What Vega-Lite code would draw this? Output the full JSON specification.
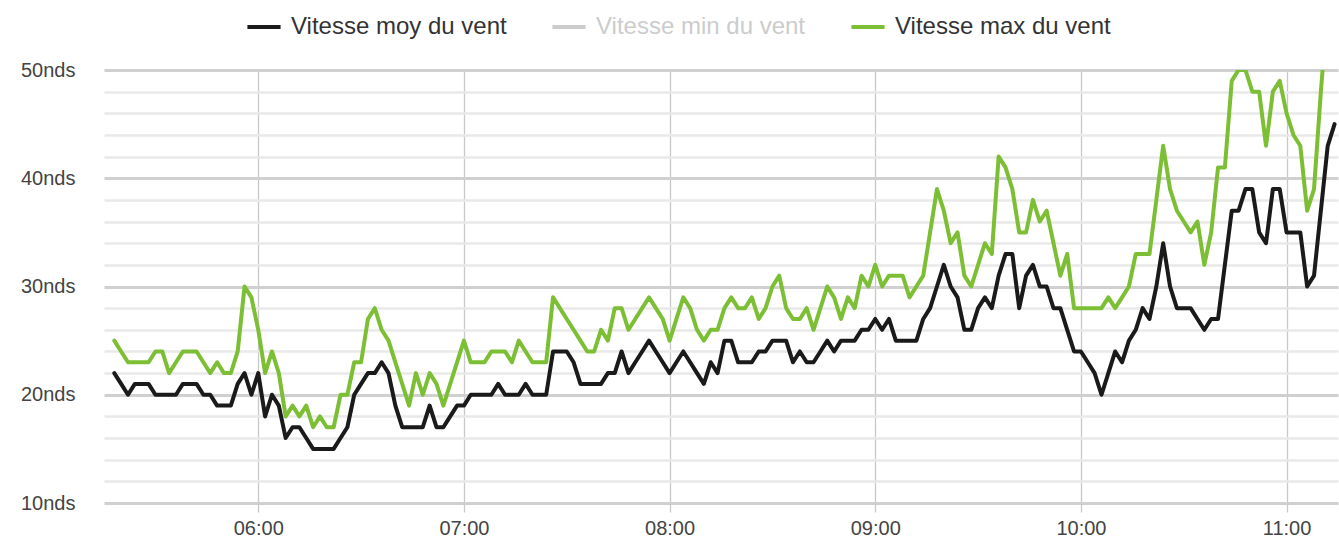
{
  "$schema": "https://vega.github.io/schema/vega-lite/v6.json",
  "width": 1234,
  "height": 433,
  "autosize": {"type": "none"},
  "padding": {"left": 104, "top": 70, "right": 1, "bottom": 43},
  "background": "white",
  "config": {"view": {"stroke": null}, "font": "Liberation Sans"},
  "data": {
    "format": {"parse": {"t": "date:'%H:%M'"}},
    "values": [
      {"t":"05:18","moy":22,"max":25},{"t":"05:20","moy":21,"max":24},{"t":"05:22","moy":20,"max":23},{"t":"05:24","moy":21,"max":23},
      {"t":"05:26","moy":21,"max":23},{"t":"05:28","moy":21,"max":23},{"t":"05:30","moy":20,"max":24},{"t":"05:32","moy":20,"max":24},
      {"t":"05:34","moy":20,"max":22},{"t":"05:36","moy":20,"max":23},{"t":"05:38","moy":21,"max":24},{"t":"05:40","moy":21,"max":24},
      {"t":"05:42","moy":21,"max":24},{"t":"05:44","moy":20,"max":23},{"t":"05:46","moy":20,"max":22},{"t":"05:48","moy":19,"max":23},
      {"t":"05:50","moy":19,"max":22},{"t":"05:52","moy":19,"max":22},{"t":"05:54","moy":21,"max":24},{"t":"05:56","moy":22,"max":30},
      {"t":"05:58","moy":20,"max":29},{"t":"06:00","moy":22,"max":26},{"t":"06:02","moy":18,"max":22},{"t":"06:04","moy":20,"max":24},
      {"t":"06:06","moy":19,"max":22},{"t":"06:08","moy":16,"max":18},{"t":"06:10","moy":17,"max":19},{"t":"06:12","moy":17,"max":18},
      {"t":"06:14","moy":16,"max":19},{"t":"06:16","moy":15,"max":17},{"t":"06:18","moy":15,"max":18},{"t":"06:20","moy":15,"max":17},
      {"t":"06:22","moy":15,"max":17},{"t":"06:24","moy":16,"max":20},{"t":"06:26","moy":17,"max":20},{"t":"06:28","moy":20,"max":23},
      {"t":"06:30","moy":21,"max":23},{"t":"06:32","moy":22,"max":27},{"t":"06:34","moy":22,"max":28},{"t":"06:36","moy":23,"max":26},
      {"t":"06:38","moy":22,"max":25},{"t":"06:40","moy":19,"max":23},{"t":"06:42","moy":17,"max":21},{"t":"06:44","moy":17,"max":19},
      {"t":"06:46","moy":17,"max":22},{"t":"06:48","moy":17,"max":20},{"t":"06:50","moy":19,"max":22},{"t":"06:52","moy":17,"max":21},
      {"t":"06:54","moy":17,"max":19},{"t":"06:56","moy":18,"max":21},{"t":"06:58","moy":19,"max":23},{"t":"07:00","moy":19,"max":25},
      {"t":"07:02","moy":20,"max":23},{"t":"07:04","moy":20,"max":23},{"t":"07:06","moy":20,"max":23},{"t":"07:08","moy":20,"max":24},
      {"t":"07:10","moy":21,"max":24},{"t":"07:12","moy":20,"max":24},{"t":"07:14","moy":20,"max":23},{"t":"07:16","moy":20,"max":25},
      {"t":"07:18","moy":21,"max":24},{"t":"07:20","moy":20,"max":23},{"t":"07:22","moy":20,"max":23},{"t":"07:24","moy":20,"max":23},
      {"t":"07:26","moy":24,"max":29},{"t":"07:28","moy":24,"max":28},{"t":"07:30","moy":24,"max":27},{"t":"07:32","moy":23,"max":26},
      {"t":"07:34","moy":21,"max":25},{"t":"07:36","moy":21,"max":24},{"t":"07:38","moy":21,"max":24},{"t":"07:40","moy":21,"max":26},
      {"t":"07:42","moy":22,"max":25},{"t":"07:44","moy":22,"max":28},{"t":"07:46","moy":24,"max":28},{"t":"07:48","moy":22,"max":26},
      {"t":"07:50","moy":23,"max":27},{"t":"07:52","moy":24,"max":28},{"t":"07:54","moy":25,"max":29},{"t":"07:56","moy":24,"max":28},
      {"t":"07:58","moy":23,"max":27},{"t":"08:00","moy":22,"max":25},{"t":"08:02","moy":23,"max":27},{"t":"08:04","moy":24,"max":29},
      {"t":"08:06","moy":23,"max":28},{"t":"08:08","moy":22,"max":26},{"t":"08:10","moy":21,"max":25},{"t":"08:12","moy":23,"max":26},
      {"t":"08:14","moy":22,"max":26},{"t":"08:16","moy":25,"max":28},{"t":"08:18","moy":25,"max":29},{"t":"08:20","moy":23,"max":28},
      {"t":"08:22","moy":23,"max":28},{"t":"08:24","moy":23,"max":29},{"t":"08:26","moy":24,"max":27},{"t":"08:28","moy":24,"max":28},
      {"t":"08:30","moy":25,"max":30},{"t":"08:32","moy":25,"max":31},{"t":"08:34","moy":25,"max":28},{"t":"08:36","moy":23,"max":27},
      {"t":"08:38","moy":24,"max":27},{"t":"08:40","moy":23,"max":28},{"t":"08:42","moy":23,"max":26},{"t":"08:44","moy":24,"max":28},
      {"t":"08:46","moy":25,"max":30},{"t":"08:48","moy":24,"max":29},{"t":"08:50","moy":25,"max":27},{"t":"08:52","moy":25,"max":29},
      {"t":"08:54","moy":25,"max":28},{"t":"08:56","moy":26,"max":31},{"t":"08:58","moy":26,"max":30},{"t":"09:00","moy":27,"max":32},
      {"t":"09:02","moy":26,"max":30},{"t":"09:04","moy":27,"max":31},{"t":"09:06","moy":25,"max":31},{"t":"09:08","moy":25,"max":31},
      {"t":"09:10","moy":25,"max":29},{"t":"09:12","moy":25,"max":30},{"t":"09:14","moy":27,"max":31},{"t":"09:16","moy":28,"max":35},
      {"t":"09:18","moy":30,"max":39},{"t":"09:20","moy":32,"max":37},{"t":"09:22","moy":30,"max":34},{"t":"09:24","moy":29,"max":35},
      {"t":"09:26","moy":26,"max":31},{"t":"09:28","moy":26,"max":30},{"t":"09:30","moy":28,"max":32},{"t":"09:32","moy":29,"max":34},
      {"t":"09:34","moy":28,"max":33},{"t":"09:36","moy":31,"max":42},{"t":"09:38","moy":33,"max":41},{"t":"09:40","moy":33,"max":39},
      {"t":"09:42","moy":28,"max":35},{"t":"09:44","moy":31,"max":35},{"t":"09:46","moy":32,"max":38},{"t":"09:48","moy":30,"max":36},
      {"t":"09:50","moy":30,"max":37},{"t":"09:52","moy":28,"max":34},{"t":"09:54","moy":28,"max":31},{"t":"09:56","moy":26,"max":33},
      {"t":"09:58","moy":24,"max":28},{"t":"10:00","moy":24,"max":28},{"t":"10:02","moy":23,"max":28},{"t":"10:04","moy":22,"max":28},
      {"t":"10:06","moy":20,"max":28},{"t":"10:08","moy":22,"max":29},{"t":"10:10","moy":24,"max":28},{"t":"10:12","moy":23,"max":29},
      {"t":"10:14","moy":25,"max":30},{"t":"10:16","moy":26,"max":33},{"t":"10:18","moy":28,"max":33},{"t":"10:20","moy":27,"max":33},
      {"t":"10:22","moy":30,"max":38},{"t":"10:24","moy":34,"max":43},{"t":"10:26","moy":30,"max":39},{"t":"10:28","moy":28,"max":37},
      {"t":"10:30","moy":28,"max":36},{"t":"10:32","moy":28,"max":35},{"t":"10:34","moy":27,"max":36},{"t":"10:36","moy":26,"max":32},
      {"t":"10:38","moy":27,"max":35},{"t":"10:40","moy":27,"max":41},{"t":"10:42","moy":32,"max":41},{"t":"10:44","moy":37,"max":49},
      {"t":"10:46","moy":37,"max":50},{"t":"10:48","moy":39,"max":50},{"t":"10:50","moy":39,"max":48},{"t":"10:52","moy":35,"max":48},
      {"t":"10:54","moy":34,"max":43},{"t":"10:56","moy":39,"max":48},{"t":"10:58","moy":39,"max":49},{"t":"11:00","moy":35,"max":46},
      {"t":"11:02","moy":35,"max":44},{"t":"11:04","moy":35,"max":43},{"t":"11:06","moy":30,"max":37},{"t":"11:08","moy":31,"max":39},
      {"t":"11:10","moy":37,"max":48},{"t":"11:12","moy":43,"max":56},{"t":"11:14","moy":45,"max":57}
    ]
  },
  "transform": [{"fold": ["moy", "max"], "as": ["serie", "v"]}],
  "mark": {"type": "line", "strokeWidth": 4, "strokeJoin": "round", "strokeCap": "round", "clip": true},
  "encoding": {
    "x": {
      "field": "t",
      "type": "temporal",
      "scale": {
        "domain": [
          {"year": 1900, "month": 1, "date": 1, "hours": 5, "minutes": 15},
          {"year": 1900, "month": 1, "date": 1, "hours": 11, "minutes": 15}
        ]
      },
      "axis": {
        "title": null,
        "values": [
          {"year": 1900, "month": 1, "date": 1, "hours": 6},
          {"year": 1900, "month": 1, "date": 1, "hours": 7},
          {"year": 1900, "month": 1, "date": 1, "hours": 8},
          {"year": 1900, "month": 1, "date": 1, "hours": 9},
          {"year": 1900, "month": 1, "date": 1, "hours": 10},
          {"year": 1900, "month": 1, "date": 1, "hours": 11}
        ],
        "format": "%H:%M",
        "grid": true,
        "gridColor": "#c8c8c8",
        "gridWidth": 1.3,
        "ticks": true,
        "tickSize": 9,
        "tickColor": "#c8c8c8",
        "tickWidth": 1.3,
        "domain": false,
        "labelFontSize": 20,
        "labelColor": "#444444",
        "labelPadding": 6,
        "labelFont": "Liberation Sans"
      }
    },
    "y": {
      "field": "v",
      "type": "quantitative",
      "scale": {"domain": [10, 50], "nice": false, "zero": false},
      "axis": {
        "title": null,
        "values": [10,12,14,16,18,20,22,24,26,28,30,32,34,36,38,40,42,44,46,48,50],
        "labelExpr": "datum.value % 10 === 0 ? datum.value + 'nds' : ''",
        "labelOverlap": false,
        "grid": true,
        "gridColor": {"condition": {"test": "datum.value % 10 === 0", "value": "#d0d0d0"}, "value": "#e9e9e9"},
        "gridWidth": {"condition": {"test": "datum.value % 10 === 0", "value": 3}, "value": 2.5},
        "ticks": false,
        "tickSize": 0,
        "domain": false,
        "labelPadding": 29,
        "labelFontSize": 20,
        "labelColor": "#444444",
        "labelFont": "Liberation Sans"
      }
    },
    "color": {
      "field": "serie",
      "type": "nominal",
      "scale": {"domain": ["moy", "min", "max"], "range": ["#1a1a1a", "#cccccc", "#7cbf34"]},
      "legend": {
        "title": null,
        "orient": "none",
        "legendX": 141,
        "legendY": -62,
        "direction": "horizontal",
        "symbolType": "stroke",
        "symbolSize": 1100,
        "symbolStrokeWidth": 4,
        "labelFontSize": 24,
        "labelFont": "Liberation Sans",
        "labelColor": "#333333",
        "labelOffset": 8,
        "labelLimit": 400,
        "columnPadding": 37,
        "labelExpr": "'Vitesse ' + datum.label + ' du vent'",
        "encode": {"labels": {"update": {"fill": {"signal": "datum.value === 'min' ? '#cccccc' : '#333333'"}}}}
      }
    }
  }
}
